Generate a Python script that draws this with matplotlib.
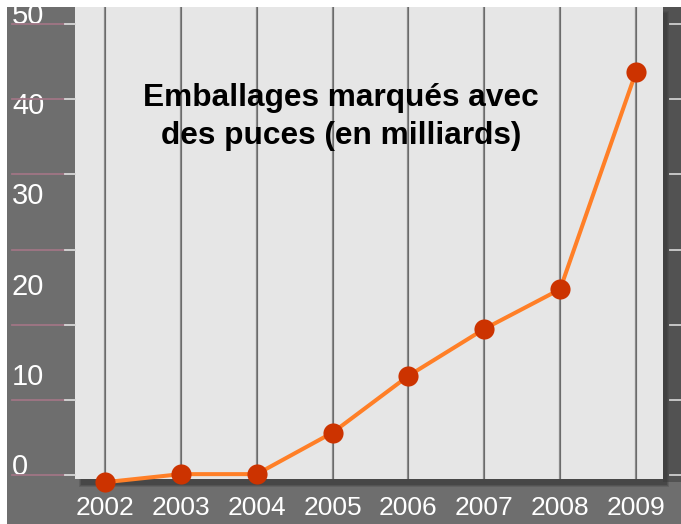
import numpy as np
import matplotlib.pyplot as plt
from matplotlib.patches import Rectangle

# data
years = [2002, 2003, 2004, 2005, 2006, 2007, 2008, 2009]
puces = [-0.8, 0.1, 0.1, 4.7, 11.0, 16.2, 20.6, 44.7]
y_labels = [0, 10, 20, 30, 40, 50]
titre = "Emballages marqués avec\ndes puces (en milliards)"

plt.rcParams['font.family'] = ['Liberation Sans', 'DejaVu Sans']

W, H = 681, 524
fig = plt.figure(figsize=(W / 100, H / 100), dpi=100, facecolor='white')


def px_rect(x0, y0, x1, y1, color, z, alpha=1.0):
    # rectangle given in pixel coords (origin top left)
    fig.patches.append(Rectangle((x0 / W, 1 - y1 / H), (x1 - x0) / W, (y1 - y0) / H,
                                 transform=fig.transFigure, color=color,
                                 zorder=z, alpha=alpha, lw=0))


# grey frame, dark right strip and shadow
px_rect(7, 7, W, H, '#6e6e6e', -3)
px_rect(663, 7, W, 482, '#525252', -2)
for i, a in enumerate([0.25, 0.35, 0.5]):
    px_rect(79 + i, 11 + i, 669 - i, 487 - i, '#3c3c3c', -1, alpha=a)

ax = fig.add_axes([75 / W, 1 - 479 / H, (663 - 75) / W, (479 - 7) / H])
ax.set_facecolor('#e6e6e6')
ax.set_xlim(2001.605, 2009.356)
ax.set_ylim(-0.44, 51.9)
for s in ax.spines.values():
    s.set_visible(False)

for yr in years:
    ax.axvline(yr, color='#8a8a8a', lw=1.6, zorder=1)
    ax.axvline(yr, color='#666666', lw=0.6, zorder=1)

ax.plot(years, puces, color='#ff7f27', lw=2.9, zorder=3, clip_on=False)
ax.plot(years, puces, 'o', color='#cc3300', ms=14.5, mec='none', zorder=4, clip_on=False)

ax.set_xticks(years)
ax.set_xticklabels([str(y) for y in years])
ax.tick_params(axis='x', length=0, pad=12, labelcolor='white', labelsize=19)

ax.set_yticks(y_labels)
ax.tick_params(axis='y', length=0, pad=45.4, labelcolor='white', labelsize=21)
for lab in ax.get_yticklabels():
    lab.set_ha('left')
    lab.set_va('baseline')

# tick marks on both sides (6 divisions)
trans = ax.get_yaxis_transform()
for v in np.linspace(0, 50, 7):
    ax.plot([-63 / 588, -10 / 588], [v, v], transform=trans, color='#a07585', lw=1.3, clip_on=False)
    ax.plot([-10 / 588, 0], [v, v], transform=trans, color='#d8d8d8', lw=1.3, clip_on=False)
    ax.plot([1 + 7 / 588, 1 + 18 / 588], [v, v], transform=trans, color='#cfcfcf', lw=1.3, clip_on=False)

fig.text(341 / W, 1 - 117 / H, titre, ha='center', va='center', ma='center',
         fontsize=22.8, fontweight='bold', family='Liberation Sans', linespacing=1.35, zorder=5)

# white border on top covers anything drawn above the frame
px_rect(0, 0, W, 7, 'white', 10)

fig.savefig('out.png', dpi=100, facecolor=fig.get_facecolor())
